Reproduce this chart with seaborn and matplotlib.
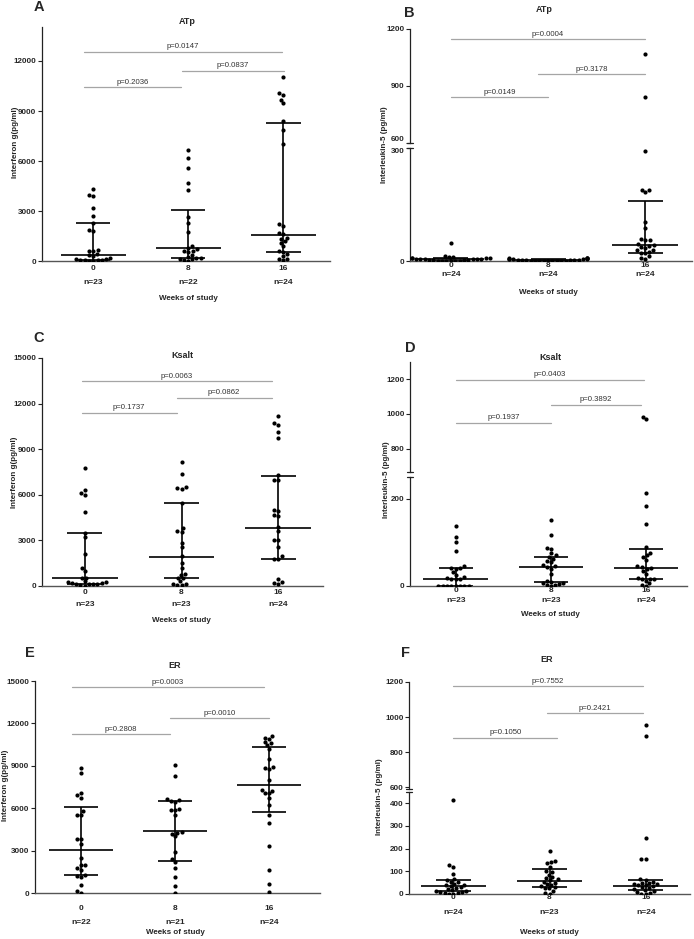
import warnings
import pandas as pd
import seaborn as sns
import matplotlib.pyplot as plt
from matplotlib.transforms import blended_transform_factory

warnings.filterwarnings('ignore')

weeks = ['0', '8', '16']

# A - ATp, interferon gamma
a_w0 = [4300, 3950, 3900, 3200, 2700, 2300, 1850, 1800, 650, 620, 600, 400, 350, 300,
        200, 150, 100, 80, 60, 50, 40, 30, 20]
a_w8 = [6650, 6150, 5550, 4700, 4250, 2650, 2300, 1750, 900, 800, 700, 600, 600, 550,
        350, 250, 200, 200, 150, 100, 50, 0]
a_w16 = [11050, 10050, 9950, 9650, 9450, 8400, 7850, 7000, 2200, 2100, 1700, 1650, 1400,
         1350, 1200, 1100, 900, 600, 550, 400, 300, 150, 100, 50]
a_n = [23, 22, 24]
a_med = [340, 760, 1560]
a_q1 = [80, 200, 560]
a_q3 = [2300, 3080, 8280]
a_p = ['p=0.2036', 'p=0.0837', 'p=0.0147']

# B - ATp, interleukin-5
b_w0 = [49, 12, 11, 10, 9, 8, 8, 7, 6, 6, 5, 5, 4, 4, 3, 3, 2, 2, 1, 1, 1, 0, 0, 0]
b_w8 = [9, 8, 7, 7, 6, 5, 5, 4, 4, 3, 3, 3, 2, 2, 2, 1, 1, 1, 0, 0, 0, 0, 0, 0]
b_w16 = [1068, 840, 292, 189, 188, 182, 103, 88, 58, 56, 55, 45, 42, 40, 38, 35, 30, 28,
         25, 22, 20, 12, 8, 5]
b_n = [24, 24, 24]
b_med = [4, 2, 42]
b_q1 = [1, 0.5, 20]
b_q3 = [7, 4, 159]
b_p = ['p=0.0149', 'p=0.3178', 'p=0.0004']

# C - Ksalt, interferon gamma
c_w0 = [7785, 6300, 6150, 6000, 4850, 3500, 3200, 2100, 1200, 1000, 550, 500, 300, 250,
        250, 200, 200, 150, 150, 100, 100, 50, 0]
c_w8 = [8150, 7350, 6500, 6450, 6400, 5450, 3800, 3600, 3550, 2850, 2550, 1950, 1500,
        1200, 800, 750, 550, 500, 300, 150, 100, 50, 50]
c_w16 = [11200, 10700, 10600, 10100, 9750, 7300, 7000, 6950, 5000, 4950, 4650, 4600, 3900,
         3600, 3050, 3000, 2550, 1950, 1800, 1800, 450, 250, 200, 100]
c_n = [23, 23, 24]
c_med = [530, 1935, 3783]
c_q1 = [150, 550, 1803]
c_q3 = [3497, 5476, 7257]
c_p = ['p=0.1737', 'p=0.0862', 'p=0.0063']

# D - Ksalt, interleukin-5
d_w0 = [138, 113, 101, 81, 46, 42, 41, 40, 32, 25, 20, 18, 17, 16, 15, 0, 0, 0, 0, 0, 0, 0, 0]
d_w8 = [152, 116, 87, 85, 75, 70, 66, 63, 58, 55, 48, 45, 43, 40, 28, 12, 10, 8, 6, 4, 3, 2, 0]
d_w16 = [985, 970, 213, 184, 143, 89, 75, 70, 66, 60, 46, 44, 42, 40, 35, 28, 18, 17, 16,
         15, 12, 6, 2, 0]
d_n = [23, 23, 24]
d_med = [15, 43, 42]
d_q1 = [0, 9, 17]
d_q3 = [41, 67, 85]
d_p = ['p=0.1937', 'p=0.3892', 'p=0.0403']

# E - ER, interferon gamma
e_w0 = [8850, 8500, 7050, 6900, 6750, 5800, 5550, 5550, 3800, 3800, 3500, 2500, 2000, 1950,
        1800, 1650, 1250, 1200, 1100, 550, 150, 0]
e_w8 = [9050, 8300, 6650, 6550, 6500, 6450, 5950, 5900, 5850, 5550, 4300, 4250, 4200, 4000,
        2900, 2400, 2200, 1750, 1150, 500, 0]
e_w16 = [11100, 11000, 10900, 10700, 10600, 10450, 10200, 9500, 8900, 8850, 8750, 8000,
         7300, 7250, 7100, 7050, 6700, 6250, 5500, 4950, 3350, 1650, 650, 50]
e_n = [22, 21, 24]
e_med = [3014, 4403, 7653]
e_q1 = [1248, 2284, 5722]
e_q3 = [6051, 6499, 10337]
e_p = ['p=0.2808', 'p=0.0010', 'p=0.0003']

# F - ER, interleukin-5
f_w0 = [415, 128, 120, 90, 65, 62, 55, 52, 45, 40, 38, 35, 30, 25, 20, 18, 15, 12, 10, 8,
        5, 3, 2, 0]
f_w8 = [190, 145, 140, 135, 120, 100, 95, 85, 75, 70, 65, 60, 55, 50, 45, 40, 35, 30, 28,
        25, 15, 5, 2]
f_w16 = [955, 890, 245, 155, 155, 65, 60, 55, 50, 48, 45, 42, 40, 38, 35, 30, 25, 20, 18,
         15, 10, 5, 2, 0]
f_n = [24, 23, 24]
f_med = [37, 56, 37]
f_q1 = [15, 31, 16]
f_q3 = [63, 110, 60]
f_p = ['p=0.1050', 'p=0.2421', 'p=0.7552']

W, H = 694, 939
sns.set_style('ticks')
plt.rcParams['font.family'] = ['Liberation Sans', 'DejaVu Sans']
fig = plt.figure(figsize=(W / 100, H / 100), dpi=100)

INK = '#222222'


def add_ax(left, right, top, bottom):
    return fig.add_axes([left / W, 1 - bottom / H, (right - left) / W, (bottom - top) / H])


def dots(ax, groups):
    df = pd.DataFrame({
        'week': [w for w, g in zip(weeks, groups) for _ in g],
        'value': [v for g in groups for v in g],
    })
    sns.swarmplot(data=df, x='week', y='value', order=weeks, color='black',
                  size=3.0, linewidth=0, ax=ax, zorder=3)


def summary(ax, med, q1, q3):
    xs = list(range(len(weeks)))
    ax.hlines(med, [x - 0.34 for x in xs], [x + 0.34 for x in xs], color='black', lw=1.2, zorder=4)
    ax.hlines(q1, [x - 0.18 for x in xs], [x + 0.18 for x in xs], color='black', lw=1.2, zorder=4)
    ax.hlines(q3, [x - 0.18 for x in xs], [x + 0.18 for x in xs], color='black', lw=1.2, zorder=4)
    ax.vlines(xs, q1, q3, color='black', lw=1.2, zorder=4)


def pbars(ax, labels, bars):
    for lab, (x0, x1, y) in zip(labels, bars):
        ax.plot([x0, x1], [y, y], color='#a5a5a5', lw=0.9, clip_on=False)
        ax.annotate(lab, ((x0 + x1) / 2, y), xytext=(0, 1.5), textcoords='offset pixels',
                    ha='center', va='bottom', fontsize=5.6, color='#333333')


def yaxis(ax, lim, ticks):
    ax.set_ylim(*lim)
    ax.set_yticks(ticks, labels=[str(t) for t in ticks], fontweight='bold', fontsize=5.8)
    ax.tick_params(axis='y', length=3, width=0.8, color=INK, pad=1)
    ax.set_ylabel('')
    ax.set_xlabel('')
    for s in ['top', 'right']:
        ax.spines[s].set_visible(False)
    ax.spines['left'].set_color(INK)
    ax.spines['left'].set_linewidth(0.9)


def xaxis(ax, xlim, n, tick_px, n_px, xl_px):
    ax.set_xlim(*xlim)
    ax.set_xticks(range(3), labels=weeks, fontweight='bold', fontsize=6.0)
    ax.tick_params(axis='x', length=0, pad=max(tick_px - 4, 0) * 0.72)
    ax.spines['bottom'].set_color('#555555')
    ax.spines['bottom'].set_linewidth(1.0)
    tr = blended_transform_factory(ax.transData, ax.transAxes)
    for i, k in enumerate(n):
        ax.annotate(f'n={k}', (i, 0), xycoords=tr, xytext=(0, -n_px), textcoords='offset pixels',
                    ha='center', va='center', fontsize=6.0, fontweight='bold')
    ax.annotate('Weeks of study', (1, 0), xycoords=tr, xytext=(0, -xl_px),
                textcoords='offset pixels', ha='center', va='center', fontsize=5.8,
                fontweight='bold')


def hide_x(ax):
    ax.spines['bottom'].set_visible(False)
    ax.set_xticks([])


def break_marks(lower, upper):
    for ax, y in [(lower, 1), (upper, 0)]:
        ax.plot([-0.012, 0.012], [y, y], transform=ax.transAxes, color=INK, lw=0.9,
                clip_on=False)


def fig_text(x, y, s, **kw):
    fig.text(x / W, 1 - y / H, s, ha='center', va='center', **kw)


# ---- left column: single axes ----
left_panels = [
    dict(box=(42, 330, 27, 261), groups=[a_w0, a_w8, a_w16], med=a_med, q1=a_q1, q3=a_q3,
         n=a_n, p=a_p, ylim=(0, 14040), yt=[0, 3000, 6000, 9000, 12000], xlim=(-0.54, 2.49),
         bars=[(-0.1, 0.92, 10440), (0.93, 2.01, 11400), (-0.1, 1.99, 12540)], off=(8, 21, 37)),
    dict(box=(42, 323, 358, 586), groups=[c_w0, c_w8, c_w16], med=c_med, q1=c_q1, q3=c_q3,
         n=c_n, p=c_p, ylim=(0, 15000), yt=[0, 3000, 6000, 9000, 12000, 15000],
         xlim=(-0.44, 2.46),
         bars=[(-0.03, 0.95, 11410), (0.95, 1.93, 12400), (-0.03, 1.93, 13460)], off=(7, 19, 35)),
    dict(box=(35, 320, 681, 893), groups=[e_w0, e_w8, e_w16], med=e_med, q1=e_q1, q3=e_q3,
         n=e_n, p=e_p, ylim=(0, 15000), yt=[0, 3000, 6000, 9000, 12000, 15000],
         xlim=(-0.49, 2.54),
         bars=[(-0.1, 0.95, 11232), (0.95, 2.0, 12362), (-0.1, 1.94, 14553)], off=(16, 30, 40)),
]

for p in left_panels:
    ax = add_ax(*p['box'])
    dots(ax, p['groups'])
    summary(ax, p['med'], p['q1'], p['q3'])
    yaxis(ax, p['ylim'], p['yt'])
    xaxis(ax, p['xlim'], p['n'], *p['off'])
    pbars(ax, p['p'], p['bars'])

# ---- right column: broken y axes ----
right_panels = [
    dict(lo_box=(410, 692, 148, 261), hi_box=(410, 692, 29, 143),
         groups=[b_w0, b_w8, b_w16], med=b_med, q1=b_q1, q3=b_q3, n=b_n, p=b_p,
         lo_lim=(0, 300), lo_t=[0, 300], hi_lim=(600, 1200), hi_t=[600, 900, 1200],
         xlim=(-0.42, 2.48), bars=[(0, 1.0, 842), (0.9, 2.0, 963), (0, 2.0, 1147)],
         off=(5, 14, 32)),
    dict(lo_box=(410, 687, 477, 586), hi_box=(410, 687, 362, 472),
         groups=[d_w0, d_w8, d_w16], med=d_med, q1=d_q1, q3=d_q3, n=d_n, p=d_p,
         lo_lim=(0, 250), lo_t=[0, 200], hi_lim=(665, 1300), hi_t=[800, 1000, 1200],
         xlim=(-0.48, 2.43), bars=[(0, 1.0, 950), (1.0, 1.95, 1054), (0, 1.98, 1198)],
         off=(5, 15, 28)),
    dict(lo_box=(409, 690, 792, 894), hi_box=(409, 690, 682, 789),
         groups=[f_w0, f_w8, f_w16], med=f_med, q1=f_q1, q3=f_q3, n=f_n, p=f_p,
         lo_lim=(0, 450), lo_t=[0, 100, 200, 300, 400], hi_lim=(590, 1200),
         hi_t=[600, 800, 1000, 1200],
         xlim=(-0.46, 2.46), bars=[(0, 1.08, 883), (0.97, 1.97, 1023), (0, 1.97, 1175)],
         off=(4, 18, 39)),
]

for k, p in enumerate(right_panels):
    lo = add_ax(*p['lo_box'])
    hi = add_ax(*p['hi_box'])
    for ax in (lo, hi):
        dots(ax, p['groups'])
        summary(ax, p['med'], p['q1'], p['q3'])
    yaxis(lo, p['lo_lim'], p['lo_t'])
    yaxis(hi, p['hi_lim'], p['hi_t'])
    xaxis(lo, p['xlim'], p['n'], *p['off'])
    hi.set_xlim(*p['xlim'])
    hide_x(hi)
    break_marks(lo, hi)
    pbars(hi, p['p'], p['bars'])
    if k == 0:
        # the 300 / 600 labels sit almost on top of each other: nudge them apart
        hi.get_yticklabels()[0].set_va('bottom')
        lo.get_yticklabels()[-1].set_va('top')

# panel letters, titles, y labels
for x, y, s in [(39, 7, 'A'), (409, 13, 'B'), (39, 338, 'C'), (410, 348, 'D'),
                (30, 653, 'E'), (405, 653, 'F')]:
    fig_text(x, y, s, fontsize=10.5, fontweight='bold')
for x, y, s in [(187, 22, 'ATp'), (544, 10, 'ATp'), (182, 355, 'Ksalt'), (550, 357, 'Ksalt'),
                (175, 665, 'ER'), (547, 659, 'ER')]:
    fig_text(x, y, s, fontsize=6.5, fontweight='bold')
for x, y, s in [(16, 142, 'Interferon g(pg/ml)'), (385, 145, 'Interleukin-5 (pg/ml)'),
                (15, 472, 'Interferon g(pg/ml)'), (386, 480, 'Interleukin-5 (pg/ml)'),
                (6, 785, 'Interferon g(pg/ml)'), (380, 797, 'Interleukin-5 (pg/ml)')]:
    fig_text(x, y, s, fontsize=5.8, fontweight='bold', rotation=90)

fig.savefig('out.png', dpi=100)
